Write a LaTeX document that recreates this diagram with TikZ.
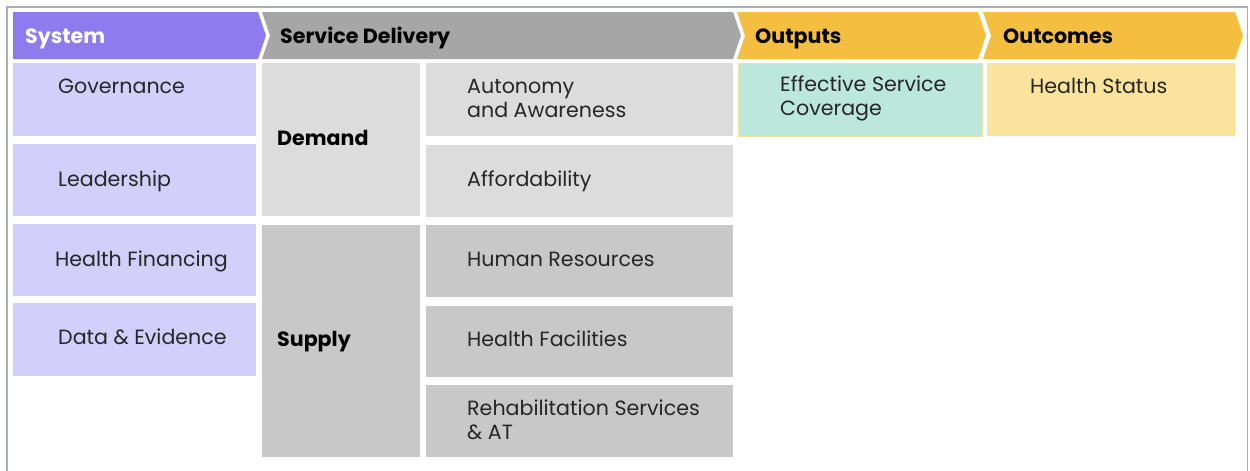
\documentclass[tikz,border=0pt]{standalone}
\usepackage{fontspec}
\setmainfont{Poppins}
\definecolor{syshead}{HTML}{8E7CEE}
\definecolor{syscell}{HTML}{D3CEFA}
\definecolor{sdhead}{HTML}{A6A6A6}
\definecolor{demcell}{HTML}{DCDCDC}
\definecolor{supcell}{HTML}{C8C8C8}
\definecolor{outhead}{HTML}{F4BE41}
\definecolor{teal}{HTML}{BCE8DC}
\definecolor{tealedge}{HTML}{F3E39A}
\definecolor{statcell}{HTML}{FAE39C}
\definecolor{frame}{HTML}{A8AEB6}
\definecolor{ink}{HTML}{262626}
\tikzset{
  cell/.style={rectangle, anchor=north west, inner sep=0pt, outer sep=0pt},
  lbl/.style={anchor=west, inner sep=0pt, yshift=-2.5pt, text height=14pt, text depth=4pt, font=\fontsize{20.6}{24}\selectfont, text=ink},
  lbltwo/.style={anchor=west, inner sep=0pt, yshift=-0.5pt, font=\fontsize{20.6}{24}\selectfont, text=ink, align=left},
  hlbl/.style={anchor=west, inner sep=0pt, yshift=-2.5pt, text height=14pt, text depth=4pt, font=\fontsize{20.6}{24}\selectfont\bfseries},
}
\begin{document}
\begin{tikzpicture}[x=1pt,y=-1pt]
\useasboundingbox (0,0) rectangle (1250,471);
\fill[white] (0,0) rectangle (1250,471);
\draw[frame, line width=1.2pt] (7,480) -- (7,7) -- (1247.5,7) -- (1247.5,480);
% header chevrons
\fill[syshead] (13,12) -- (258,12) -- (266,35.5) -- (258,59) -- (13,59) -- cycle;
\fill[sdhead] (262,12) -- (733,12) -- (741,35.5) -- (733,59) -- (262,59) -- (270,35.5) -- cycle;
\fill[outhead] (737,12) -- (978,12) -- (986,35.5) -- (978,59) -- (737,59) -- (745,35.5) -- cycle;
\fill[outhead] (983,12) -- (1235,12) -- (1243,35.5) -- (1235,59) -- (983,59) -- (991,35.5) -- cycle;
\node[hlbl, text=white] (hsys) at (25,35.5) {System};
\node[hlbl, text=black] (hsd) at (280,35.5) {Service Delivery};
\node[hlbl, text=black] (hout) at (755,35.5) {Outputs};
\node[hlbl, text=black] (hoc) at (1003,35.5) {Outcomes};
% system column
\node[cell, fill=syscell, minimum width=243pt, minimum height=73pt] (gov) at (13,63) {};
\node[cell, fill=syscell, minimum width=243pt, minimum height=72pt] (lead) at (13,144) {};
\node[cell, fill=syscell, minimum width=243pt, minimum height=72pt] (fin) at (13,224) {};
\node[cell, fill=syscell, minimum width=243pt, minimum height=73pt] (data) at (13,303) {};
\node[lbl] at (58,86) {Governance};
\node[lbl] at (58,179) {Leadership};
\node[lbl] at (55,259) {Health Financing};
\node[lbl] at (58,337) {Data \& Evidence};
% demand / supply
\node[cell, fill=demcell, minimum width=158pt, minimum height=153pt] (dem) at (262,63) {};
\node[cell, fill=supcell, minimum width=158pt, minimum height=232pt] (sup) at (262,225) {};
\node[hlbl, text=black] at (277,138) {Demand};
\node[hlbl, text=black] at (277,339) {Supply};
% right column
\node[cell, fill=demcell, minimum width=307pt, minimum height=73pt] (auto) at (426,63) {};
\node[cell, fill=demcell, minimum width=307pt, minimum height=72pt] (aff) at (426,145) {};
\node[cell, fill=supcell, minimum width=307pt, minimum height=72pt] (hr) at (426,225) {};
\node[cell, fill=supcell, minimum width=307pt, minimum height=71pt] (hf) at (426,306) {};
\node[cell, fill=supcell, minimum width=307pt, minimum height=72pt] (rehab) at (426,385) {};
\node[lbltwo] at (467,98) {Autonomy\\and Awareness};
\node[lbl] at (467,179) {Affordability};
\node[lbl] at (467,259) {Human Resources};
\node[lbl] at (467,339) {Health Facilities};
\node[lbltwo] at (467,419) {Rehabilitation Services\\\& AT};
% outputs / outcomes
\node[cell, fill=teal, draw=tealedge, line width=1pt, minimum width=244pt, minimum height=73pt] (esc) at (738,63) {};
\node[cell, fill=statcell, minimum width=248pt, minimum height=73pt] (hs) at (987,63) {};
\node[lbltwo] at (780,98) {Effective Service\\Coverage};
\node[lbl] at (1030,86) {Health Status};
\end{tikzpicture}
\end{document}
